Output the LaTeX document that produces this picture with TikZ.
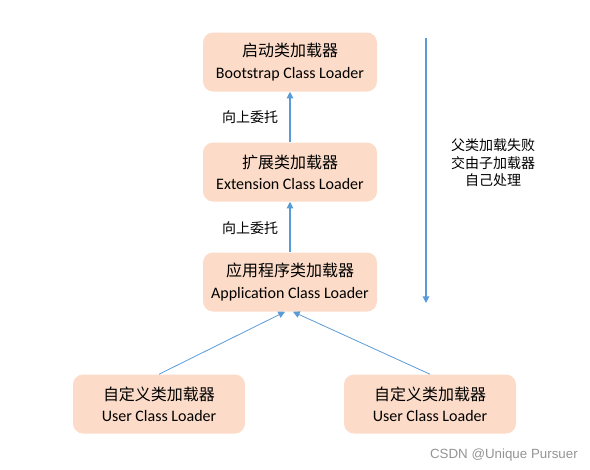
\documentclass[tikz,border=0pt]{standalone}
\usepackage{fontspec}
\setmainfont{Carlito}
\newfontfamily\cjk{Noto Sans CJK SC}
\newfontfamily\wm{Liberation Sans}
\usetikzlibrary{arrows.meta}
\definecolor{boxfill}{RGB}{252,220,200}
\definecolor{arr}{RGB}{91,155,213}
\begin{document}
\begin{tikzpicture}[x=0.75pt,y=-0.75pt,
  loader/.style={fill=boxfill,draw=none,rounded corners=7.5pt,minimum width=174*0.75pt,minimum height=59*0.75pt,align=center,inner sep=0pt,font=\fontsize{12pt}{16pt}\selectfont},
  conn/.style={draw=arr,line width=0.8pt,-{Triangle[length=5pt,width=5pt]}},
  lbl/.style={font=\cjk\fontsize{10.5pt}{14pt}\selectfont,inner sep=0pt}]
\useasboundingbox (0,0) rectangle (590,469);
\node[loader] (boot) at (290,62) {{\cjk 启动类加载器}\\Bootstrap Class Loader};
\node[loader] (ext) at (290,172) {{\cjk 扩展类加载器}\\Extension Class Loader};
\node[loader] (app) at (290,282) {{\cjk 应用程序类加载器}\\Application Class Loader};
\node[loader,minimum width=172*0.75pt] (u1) at (159,404) {{\cjk 自定义类加载器}\\User Class Loader};
\node[loader,minimum width=172*0.75pt] (u2) at (430,404) {{\cjk 自定义类加载器}\\User Class Loader};
\draw[conn] (ext.north) -- (boot.south);
\draw[conn] (app.north) -- (ext.south);
\node[lbl] (l1) at (250,117) {向上委托};
\node[lbl] (l2) at (250,228) {向上委托};
\coordinate (a1) at ([xshift=-5*0.75pt]app.south);
\coordinate (a2) at ([xshift=3*0.75pt]app.south);
\draw[conn,line width=0.6pt] (u1.north) -- (a1);
\draw[conn,line width=0.6pt] (u2.north) -- (a2);
\coordinate (vt) at (426,38);
\coordinate (vb) at (426,303);
\draw[conn] (vt) -- (vb);
\node[lbl,align=center,font=\cjk\fontsize{10.5pt}{13.2pt}\selectfont] (fail) at (493,163) {父类加载失败\\交由子加载器\\自己处理};
\node[font=\wm\fontsize{10pt}{12pt}\selectfont,text=black!42,inner sep=0pt,anchor=east] (wmk) at (578,455) {CSDN @Unique Pursuer};
\end{tikzpicture}
\end{document}
